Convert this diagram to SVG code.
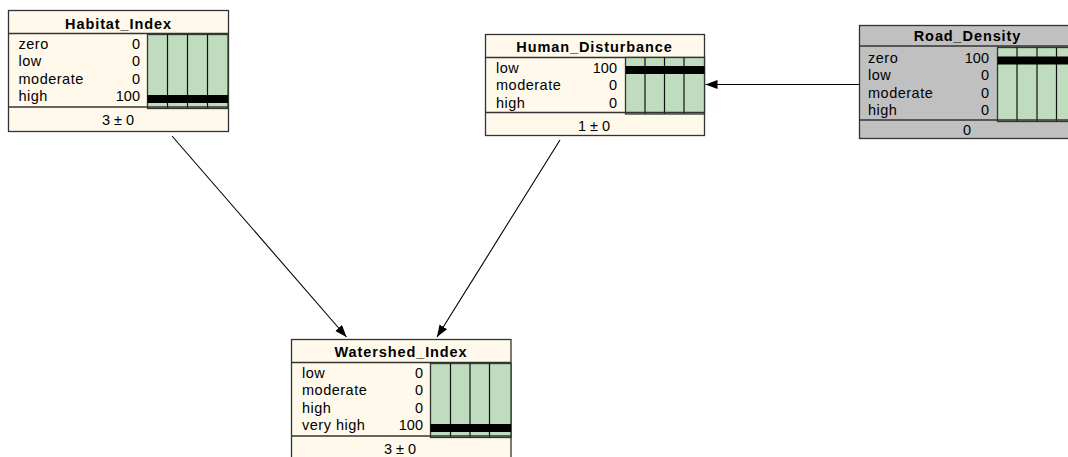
<svg xmlns="http://www.w3.org/2000/svg" width="1068" height="457" viewBox="0 0 1068 457">
<style>
.box{fill:#FFF9EC;stroke:#333;stroke-width:1.3}
.gbox{fill:#C0C0C0;stroke:#333;stroke-width:1.3}
.sep{stroke:#333;stroke-width:1.3}
.bar{fill:#BFDCBF;stroke:#2B3A2B;stroke-width:1.3}
.grid{stroke:#111;stroke-width:1.2}
.belief{fill:#000}
.title{font-family:"Liberation Sans",Arial,sans-serif;font-size:14.5px;font-weight:bold;letter-spacing:0.9px;text-anchor:middle;fill:#000}
.lbl{font-family:"Liberation Sans",Arial,sans-serif;font-size:14.5px;letter-spacing:0.5px;fill:#000}
.val{font-family:"Liberation Sans",Arial,sans-serif;font-size:14.5px;text-anchor:end;fill:#000}
.foot{font-family:"Liberation Sans",Arial,sans-serif;font-size:14.5px;text-anchor:middle;fill:#000}
.edge{stroke:#000;stroke-width:1.1;fill:none;marker-end:url(#arr)}
</style>
<defs>
<marker id="arr" markerUnits="userSpaceOnUse" markerWidth="13" markerHeight="10" refX="12" refY="4.5" orient="auto">
<path d="M0,0 L12,4.5 L0,9 z" fill="#000"/>
</marker>
</defs>

<g id="connectors">
<line class="edge" x1="172" y1="136" x2="346.5" y2="337"/>
<line class="edge" x1="560" y1="140" x2="437" y2="337"/>
<line class="edge" x1="859" y1="84.5" x2="705.5" y2="84.5"/>
</g>

<g id="Habitat_Index">
<rect class="box" x="8.5" y="10.5" width="220" height="121"/>
<text class="title" x="118.5" y="28.5">Habitat_Index</text>
<line class="sep" x1="8.5" y1="33.5" x2="228.5" y2="33.5"/>
<rect class="bar" x="147.5" y="34.5" width="80.5" height="74"/>
<line class="grid" x1="167.5" y1="34.5" x2="167.5" y2="108.5"/>
<line class="grid" x1="187.5" y1="34.5" x2="187.5" y2="108.5"/>
<line class="grid" x1="207.5" y1="34.5" x2="207.5" y2="108.5"/>
<rect class="belief" x="147.5" y="95" width="80.5" height="8"/>
<line class="sep" x1="8.5" y1="107" x2="228.5" y2="107"/>
<text class="lbl" x="18.5" y="48.5">zero</text><text class="val" x="140" y="48.5">0</text>
<text class="lbl" x="18.5" y="66.1">low</text><text class="val" x="140" y="66.1">0</text>
<text class="lbl" x="18.5" y="83.7">moderate</text><text class="val" x="140" y="83.7">0</text>
<text class="lbl" x="18.5" y="101.3">high</text><text class="val" x="140" y="101.3">100</text>
<text class="foot" x="118" y="125">3 ± 0</text>
</g>

<g id="Human_Disturbance">
<rect class="box" x="485.5" y="34.5" width="219" height="101"/>
<text class="title" x="594.5" y="52">Human_Disturbance</text>
<line class="sep" x1="485.5" y1="57.5" x2="704.5" y2="57.5"/>
<rect class="bar" x="625.5" y="57.5" width="79" height="56.5"/>
<line class="grid" x1="645" y1="57.5" x2="645" y2="114"/>
<line class="grid" x1="664.5" y1="57.5" x2="664.5" y2="114"/>
<line class="grid" x1="684" y1="57.5" x2="684" y2="114"/>
<rect class="belief" x="625.5" y="66" width="79" height="8"/>
<line class="sep" x1="485.5" y1="112.5" x2="704.5" y2="112.5"/>
<text class="lbl" x="496" y="72.5">low</text><text class="val" x="617" y="72.5">100</text>
<text class="lbl" x="496" y="90.1">moderate</text><text class="val" x="617" y="90.1">0</text>
<text class="lbl" x="496" y="107.7">high</text><text class="val" x="617" y="107.7">0</text>
<text class="foot" x="594" y="130.5">1 ± 0</text>
</g>

<g id="Road_Density">
<rect class="gbox" x="859.5" y="25.5" width="218" height="113"/>
<text class="title" x="967.5" y="41">Road_Density</text>
<line class="sep" x1="859.5" y1="46" x2="1077.5" y2="46"/>
<rect class="bar" x="997.5" y="47.5" width="80" height="74"/>
<line class="grid" x1="1017" y1="47.5" x2="1017" y2="121.5"/>
<line class="grid" x1="1037" y1="47.5" x2="1037" y2="121.5"/>
<line class="grid" x1="1056.5" y1="47.5" x2="1056.5" y2="121.5"/>
<rect class="belief" x="997.5" y="56.5" width="80" height="8"/>
<line class="sep" x1="859.5" y1="120" x2="1077.5" y2="120"/>
<text class="lbl" x="868" y="63">zero</text><text class="val" x="989" y="63">100</text>
<text class="lbl" x="868" y="80.3">low</text><text class="val" x="989" y="80.3">0</text>
<text class="lbl" x="868" y="97.6">moderate</text><text class="val" x="989" y="97.6">0</text>
<text class="lbl" x="868" y="114.9">high</text><text class="val" x="989" y="114.9">0</text>
<text class="foot" x="967" y="135">0</text>
</g>

<g id="Watershed_Index">
<rect class="box" x="291.5" y="339.5" width="219.5" height="125"/>
<text class="title" x="401" y="357">Watershed_Index</text>
<line class="sep" x1="291.5" y1="362.5" x2="511" y2="362.5"/>
<rect class="bar" x="430.5" y="363.5" width="80.5" height="74"/>
<line class="grid" x1="450.5" y1="363.5" x2="450.5" y2="437.5"/>
<line class="grid" x1="470" y1="363.5" x2="470" y2="437.5"/>
<line class="grid" x1="489.5" y1="363.5" x2="489.5" y2="437.5"/>
<rect class="belief" x="430.5" y="424" width="80.5" height="8"/>
<line class="sep" x1="291.5" y1="436" x2="511" y2="436"/>
<text class="lbl" x="302" y="377.5">low</text><text class="val" x="423" y="377.5">0</text>
<text class="lbl" x="302" y="395.1">moderate</text><text class="val" x="423" y="395.1">0</text>
<text class="lbl" x="302" y="412.7">high</text><text class="val" x="423" y="412.7">0</text>
<text class="lbl" x="302" y="430.3">very high</text><text class="val" x="423" y="430.3">100</text>
<text class="foot" x="400" y="454">3 ± 0</text>
</g>
</svg>
